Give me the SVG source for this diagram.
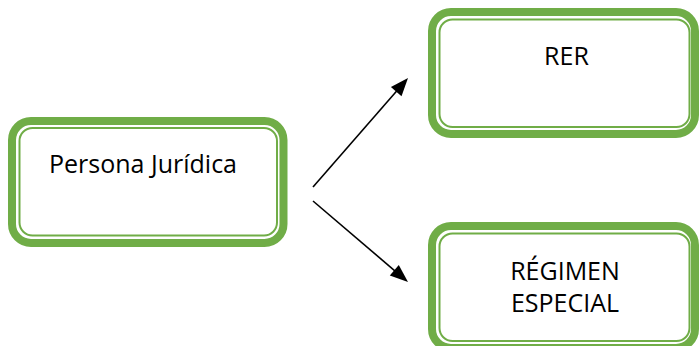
<svg xmlns="http://www.w3.org/2000/svg" width="700" height="346" viewBox="0 0 700 346">
  <style>
    .outer { fill: #ffffff; stroke: #70ad47; stroke-width: 8; }
    .inner { fill: none; stroke: #70ad47; stroke-width: 2; }
    .lbl { font-family: "Open Sans", "Liberation Sans", sans-serif; font-size: 25px; fill: #000000; text-anchor: middle; }
    .conn { stroke: #000000; stroke-width: 1.6; fill: none; }
    .head { fill: #000000; }
  </style>
  <rect width="700" height="346" fill="#ffffff"/>
  <g id="persona-juridica">
    <rect class="outer" x="12" y="121" width="271.5" height="122" rx="19"/>
    <rect class="inner" x="19.5" y="128" width="257.5" height="107.5" rx="13"/>
    <text class="lbl" x="143" y="173">Persona Jurídica</text>
  </g>
  <g id="rer">
    <rect class="outer" x="432" y="12" width="263" height="122" rx="19"/>
    <rect class="inner" x="439.5" y="19.5" width="250" height="107.5" rx="13"/>
    <text class="lbl" x="566.5" y="65">RER</text>
  </g>
  <g id="regimen-especial">
    <rect class="outer" x="432" y="226" width="263" height="122" rx="19"/>
    <rect class="inner" x="439.5" y="233.5" width="250" height="107.5" rx="13"/>
    <text class="lbl" x="565" y="280">RÉGIMEN</text>
    <text class="lbl" x="565" y="312">ESPECIAL</text>
  </g>
  <g id="connectors">
    <line class="conn" x1="313" y1="187" x2="398" y2="89.5"/>
    <line class="conn" x1="313" y1="201" x2="396" y2="271.8"/>
    <path class="head" d="M408,78 L390.9,87 L401.5,96.2 Z"/>
    <path class="head" d="M408,282 L398.8,265 L389.8,275.6 Z"/>
  </g>
</svg>
